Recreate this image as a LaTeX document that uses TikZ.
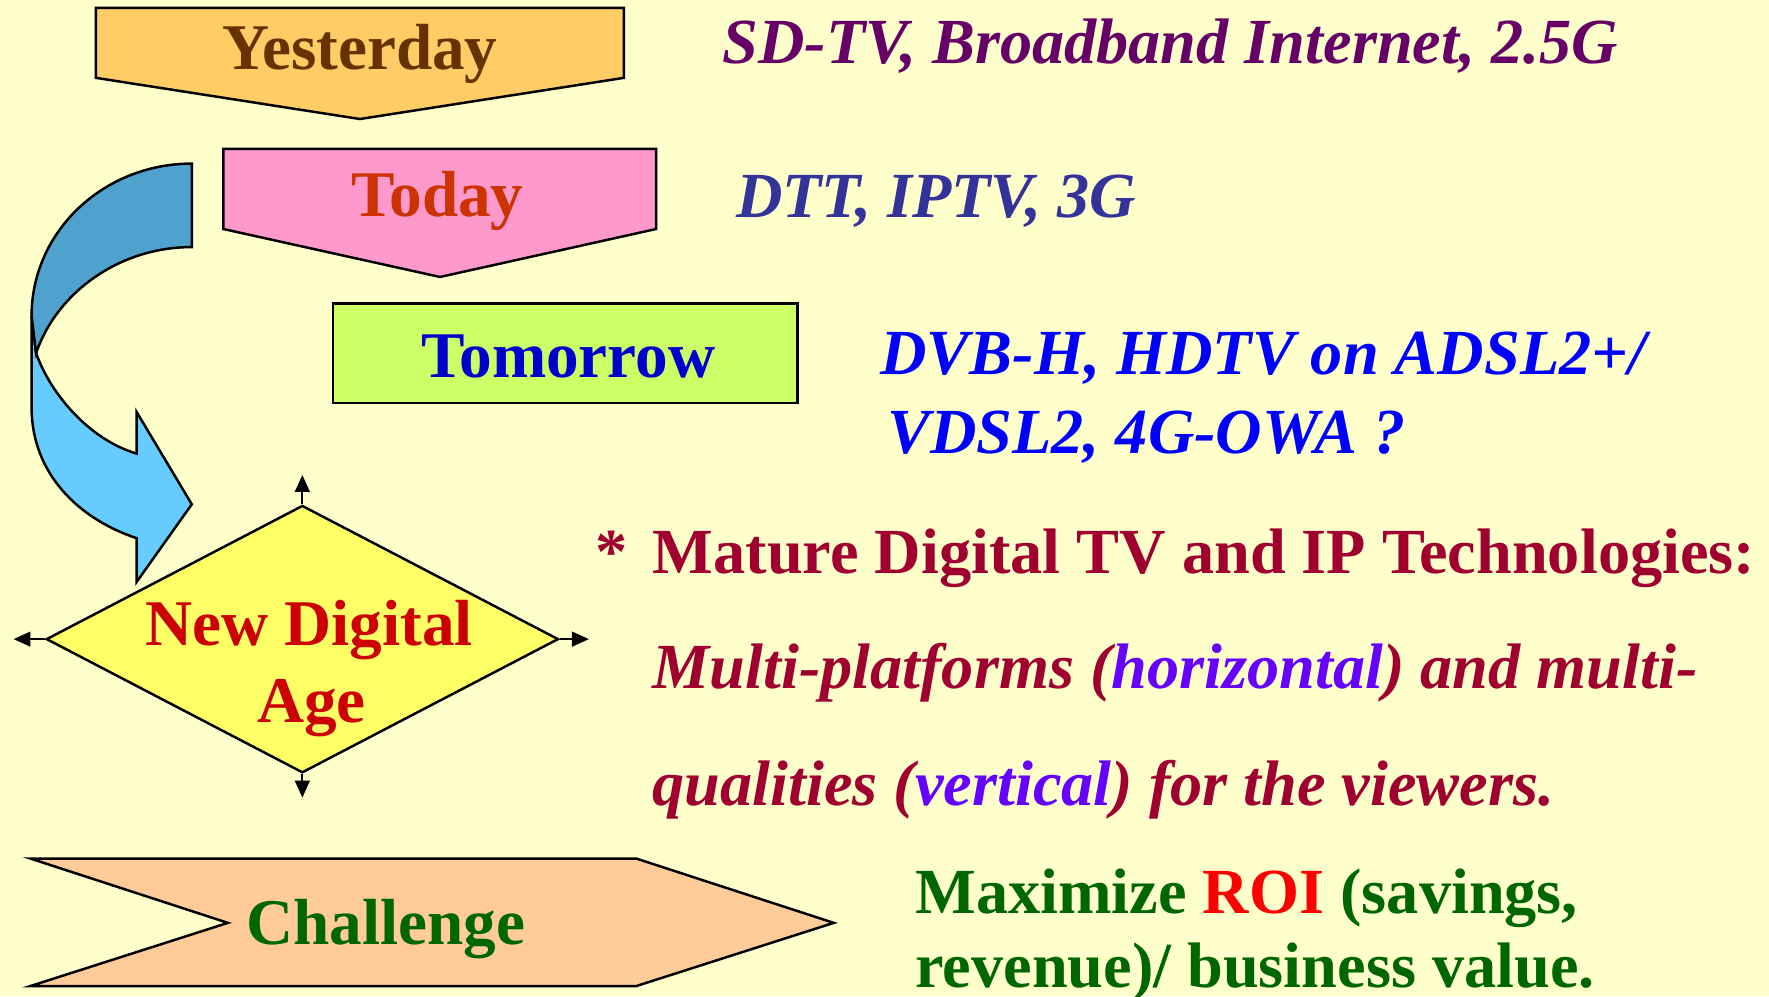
\documentclass[tikz,border=0pt]{standalone}
\usepackage{fontspec}
\setmainfont{Liberation Serif}
\usetikzlibrary{shapes.geometric,arrows.meta}

\definecolor{bg}{HTML}{FFFFCC}
\definecolor{yfill}{HTML}{FFCC66}
\definecolor{ytext}{HTML}{663300}
\definecolor{tfill}{HTML}{FF99CC}
\definecolor{ttext}{HTML}{CC3300}
\definecolor{mfill}{HTML}{CCFF66}
\definecolor{mtext}{HTML}{0000CC}
\definecolor{dfill}{HTML}{FFFF66}
\definecolor{dtext}{HTML}{CC0000}
\definecolor{cfill}{HTML}{FFCC99}
\definecolor{ctext}{HTML}{006600}
\definecolor{bandDark}{HTML}{50A2CE}
\definecolor{bandLight}{HTML}{66CCFF}
\definecolor{purp}{HTML}{660066}
\definecolor{navy}{HTML}{333399}
\definecolor{brightblue}{HTML}{0000FF}
\definecolor{crimson}{HTML}{A00030}
\definecolor{violetx}{HTML}{6600FF}
\definecolor{roired}{HTML}{FF0000}

\begin{document}
\begin{tikzpicture}[x=0.5pt,y=-0.5pt,
  outline/.style={draw=black, line width=1.1pt, line join=miter},
  lbl/.style={inner sep=0pt, anchor=base, font=\fontsize{28.9}{34}\selectfont\bfseries},
  txt/.style={inner sep=0pt, anchor=base west, font=\fontsize{28.5}{34}\selectfont\bfseries},
  txti/.style={inner sep=0pt, anchor=base west, font=\fontsize{28.5}{34}\selectfont\bfseries\itshape},
  tick/.style={line width=1pt, -{Triangle[length=7.5pt,width=6.5pt]}}]

\path[use as bounding box, fill=bg] (0,0) rectangle (1568,883);

% pentagon banners
\draw[outline, fill=yfill] (85,7) -- (553,7) -- (553,69) -- (319,105.5) -- (85,69) -- cycle;
\draw[outline, fill=tfill] (198,132) -- (581.5,132) -- (581.5,203) -- (390,245.5) -- (198,203) -- cycle;
\draw[outline, fill=mfill] (295,269) rectangle (707,357);

% curved arrow: lower light part first, upper dark part over it
\draw[outline, fill=bandLight] (28,280) -- (28,361) .. controls (28,420) and (70,460) .. (121,477)
  -- (121,516) -- (170,447) -- (121,365) -- (121,402)
  .. controls (80,390) and (45,350) .. (32,313) -- cycle;
\draw[outline, fill=bandDark] (170,145) .. controls (91.6,145) and (28,205.4) .. (28,280)
  -- (32,313) .. controls (50,260) and (105,219) .. (170,219) -- cycle;

% decision diamond with its four outlets
\node[diamond, outline, fill=dfill, inner sep=0pt, minimum width=227pt, minimum height=118.5pt] (nda) at (268,566.5) {};
\coordinate (upT) at (268,421);
\coordinate (leftT) at (12,566.5);
\coordinate (rightT) at (522,566.5);
\coordinate (downT) at (268,707);
\draw[tick] (nda.north) -- (upT);
\draw[tick] (nda.west) -- (leftT);
\draw[tick] (nda.east) -- (rightT);
\draw[tick] (nda.south) -- (downT);

% notched banner
\draw[outline, fill=cfill] (27,761) -- (564,761) -- (739,818) -- (564,874) -- (27,874) -- (202,818) -- cycle;

% labels inside the shapes
\node[lbl, text=ytext] (yest) at (319,62) {Yesterday};
\node[lbl, text=ttext] (today) at (388,191.5) {Today};
\node[lbl, text=mtext] (tom) at (504,335) {Tomorrow};
\node[lbl, text=dtext] (nd1) at (274,572) {New Digital};
\node[lbl, text=dtext] (nd2) at (276,640) {Age};
\node[lbl, text=ctext] (chal) at (342,837) {Challenge};

% descriptions on the right
\node[txti, text=purp] (l1) at (640,56) {SD-TV, Broadband Internet, 2.5G};
\node[txti, text=navy] (l2) at (652,193) {DTT, IPTV, 3G};
\node[txti, text=brightblue] (l3) at (780,332) {DVB-H, HDTV on ADSL2+/};
\node[txti, text=brightblue] (l4) at (786,402) {VDSL2, 4G-OWA ?};
\node[txt, text=crimson] (l5) at (527,508) {*\hskip0.4em Mature Digital TV and IP Technologies:};
\node[txti, text=crimson] (l6) at (578,610) {Multi-platforms (\textcolor{violetx}{horizontal}) and multi-};
\node[txti, text=crimson] (l7) at (578,714) {qualities (\textcolor{violetx}{vertical}) for the viewers.};
\node[txt, text=ctext] (l8) at (811,810) {Maximize \textcolor{roired}{ROI} (savings,};
\node[txt, text=ctext] (l9) at (811,875) {revenue)/ business value.};
\end{tikzpicture}
\end{document}
